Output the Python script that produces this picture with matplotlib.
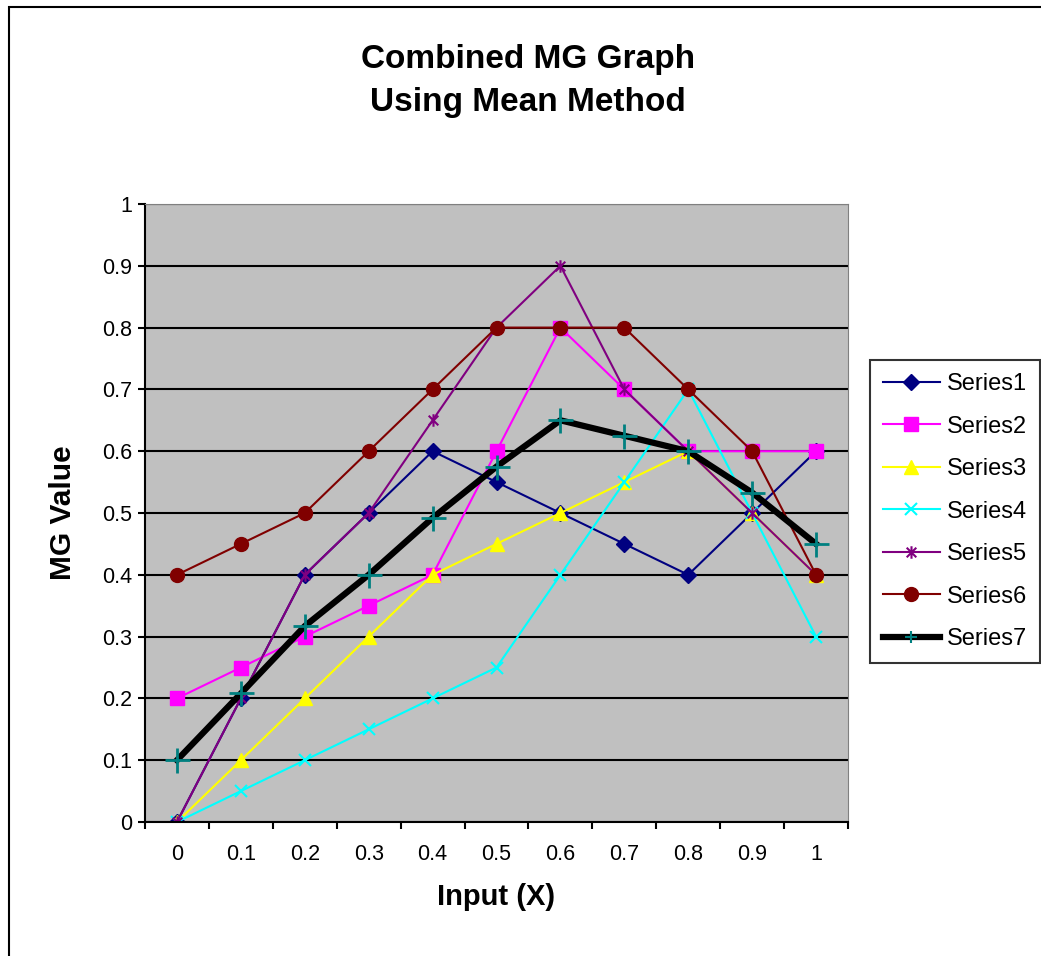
import matplotlib
matplotlib.use("Agg")
import matplotlib.pyplot as plt
from matplotlib.path import Path
from matplotlib.patches import Rectangle

plt.rcParams['font.family'] = ['Liberation Sans', 'DejaVu Sans']

# category labels of the x axis
x_labels = ['0', '0.1', '0.2', '0.3', '0.4', '0.5', '0.6', '0.7', '0.8', '0.9', '1']
y_labels = ['0', '0.1', '0.2', '0.3', '0.4', '0.5', '0.6', '0.7', '0.8', '0.9', '1']

series1 = [0.0, 0.2, 0.4, 0.5, 0.6, 0.55, 0.5, 0.45, 0.4, 0.5, 0.6]
series2 = [0.2, 0.25, 0.3, 0.35, 0.4, 0.6, 0.8, 0.7, 0.6, 0.6, 0.6]
series3 = [0.0, 0.1, 0.2, 0.3, 0.4, 0.45, 0.5, 0.55, 0.6, 0.5, 0.4]
series4 = [0.0, 0.05, 0.1, 0.15, 0.2, 0.25, 0.4, 0.55, 0.7, 0.5, 0.3]
series5 = [0.0, 0.2, 0.4, 0.5, 0.65, 0.8, 0.9, 0.7, 0.6, 0.5, 0.4]
series6 = [0.4, 0.45, 0.5, 0.6, 0.7, 0.8, 0.8, 0.8, 0.7, 0.6, 0.4]
series7 = [0.1, 0.208, 0.317, 0.4, 0.492, 0.575, 0.65, 0.625, 0.6, 0.533, 0.45]

# excel style "star" marker: an x with a vertical bar through it
star = Path([(-1, -1), (1, 1), (-1, 1), (1, -1), (0, -1.3), (0, 1.3)],
            [Path.MOVETO, Path.LINETO, Path.MOVETO, Path.LINETO, Path.MOVETO, Path.LINETO])

fig = plt.figure(figsize=(10.41, 9.56), dpi=100)
ax = fig.add_axes([145/1041, 1-822/956, 703/1041, 618/956])
ax.set_facecolor('#C0C0C0')

xs = list(range(len(x_labels)))

ax.plot(xs, series1, color='#000080', lw=1.5, marker='D', ms=8, mfc='#000080', mec='#000080', label='Series1', zorder=3)
ax.plot(xs, series2, color='#FF00FF', lw=1.5, marker='s', ms=9.5, mfc='#FF00FF', mec='#FF00FF', label='Series2', zorder=3)
ax.plot(xs, series3, color='#FFFF00', lw=1.5, marker='^', ms=10.5, mfc='#FFFF00', mec='#FFFF00', label='Series3', zorder=3)
ax.plot(xs, series4, color='#00FFFF', lw=1.5, marker='x', ms=8, mew=1.5, mec='#00FFFF', label='Series4', zorder=3)
ax.plot(xs, series5, color='#800080', lw=1.5, marker=star, ms=9, mew=1.5, mfc='none', mec='#800080', label='Series5', zorder=3)
ax.plot(xs, series6, color='#800000', lw=1.5, marker='o', ms=10, mfc='#800000', mec='#800000', label='Series6', zorder=3)
ax.plot(xs, series7, color='black', lw=4.5, marker='+', ms=18, mew=2, mec='#008080', label='Series7', zorder=3)

ax.set_xlim(-0.5, len(x_labels) - 0.5)
ax.set_ylim(0, 1)

ax.set_xticks(xs)
ax.set_xticklabels(x_labels, fontsize=15.5)
ax.set_xticks([i - 0.5 for i in range(len(x_labels) + 1)], minor=True)
ax.tick_params(axis='x', which='major', length=0, pad=16)
ax.tick_params(axis='x', which='minor', length=5, width=1.5, direction='out')

yt = [i / 10 for i in range(11)]
ax.set_yticks(yt)
ax.set_yticklabels(y_labels, fontsize=15.5)
ax.tick_params(axis='y', length=5, width=1.5, direction='out', pad=4)

ax.grid(axis='y', color='black', lw=1.5)
ax.set_axisbelow(True)

ax.spines['left'].set_linewidth(1.5)
ax.spines['bottom'].set_linewidth(1.5)
ax.spines['bottom'].set_zorder(4)
ax.spines['top'].set_color('#808080')
ax.spines['right'].set_color('#808080')

ax.set_xlabel('Input (X)', fontsize=21, fontweight='bold', labelpad=13)
ax.set_ylabel('MG Value', fontsize=21.5, fontweight='bold', labelpad=18)

fig.text(528/1041, 1-81/956, 'Combined MG Graph\nUsing Mean Method', ha='center', va='center',
         fontsize=24, fontweight='bold', linespacing=1.5)

leg = fig.legend(loc='upper left', bbox_to_anchor=(870/1041, 1-360/956), fontsize=17,
                 frameon=True, fancybox=False, edgecolor='black', borderaxespad=0,
                 handlelength=2.4, labelspacing=0.87, borderpad=0.55, handletextpad=0.3)
leg.get_frame().set_linewidth(1.5)
leg.legend_handles[6].set_markersize(9)
leg.legend_handles[6].set_markeredgewidth(1.5)

# outer chart border (runs off the right and bottom edge)
fig.patches.append(Rectangle((9/1041, -0.1), 1.2, 1.1 - 7/956, transform=fig.transFigure,
                             fill=False, edgecolor='black', lw=1.5))

fig.savefig('out.png', dpi=100)
